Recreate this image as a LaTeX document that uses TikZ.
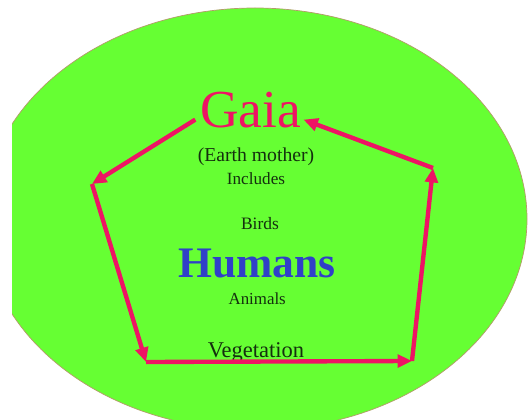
\documentclass[tikz,border=0pt]{standalone}
\usepackage{fontspec}
\setmainfont{Liberation Serif}
\usepackage{tikz}
\usetikzlibrary{arrows.meta,calc}
\usepackage{xcolor}
\definecolor{gaGreen}{HTML}{66FF33}
\definecolor{gaRim}{HTML}{B49A6A}
\definecolor{gaPink}{HTML}{EE1464}
\definecolor{gaBlue}{HTML}{3040C8}
\definecolor{gaInk}{HTML}{14300E}
\tikzset{
  arr/.style={-{Triangle[length=3.6mm,width=3.2mm]}, line width=3.1pt, draw=gaPink},
  lbl/.style={anchor=base, inner sep=2pt, text=gaInk}
}

\begin{document}
\begin{tikzpicture}[x=1cm,y=1cm]
  \useasboundingbox (0,0) rectangle (13.25,10.475);
  \begin{scope}
    \clip (0.3,0) rectangle (13.25,10.475);
    \draw[gaRim, fill=gaGreen, line width=0.5pt] (6.375,5.0) ellipse [x radius=6.8, y radius=5.275];
  \end{scope}

  \node[lbl, text=gaPink, font=\fontsize{38}{40}\selectfont] (gaia) at (6.27,7.275) {Gaia};
  \node[lbl, font=\fontsize{14}{16}\selectfont] (earth) at (6.4,6.425) {(Earth mother)};
  \node[lbl, font=\fontsize{12.2}{14}\selectfont] (incl) at (6.4,5.85) {Includes};
  \node[lbl, font=\fontsize{12.4}{14}\selectfont] (birds) at (6.5,4.725) {Birds};
  \node[lbl, text=gaBlue, font=\fontsize{31}{34}\selectfont\bfseries] (humans) at (6.43,3.55) {Humans};
  \node[lbl, font=\fontsize{12}{14}\selectfont] (anim) at (6.43,2.85) {Animals};
  \node[lbl, font=\fontsize{16}{18}\selectfont] (veg) at (6.4,1.55) {Vegetation};

  \coordinate (lv) at (2.3,5.875);
  \coordinate (bl) at (3.65,1.425);
  \coordinate (br) at (10.3,1.45);
  \coordinate (rv) at (10.825,6.275);

  \draw[arr] ($(gaia.south west)+(-0.05,0.3)$) -- (lv);
  \draw[arr] (lv) -- (bl);
  \draw[arr] (bl) -- (br);
  \draw[arr] (br) -- (rv);
  \draw[arr] (rv) -- ($(gaia.south east)+(-0.02,0.3)$);
\end{tikzpicture}
\end{document}
